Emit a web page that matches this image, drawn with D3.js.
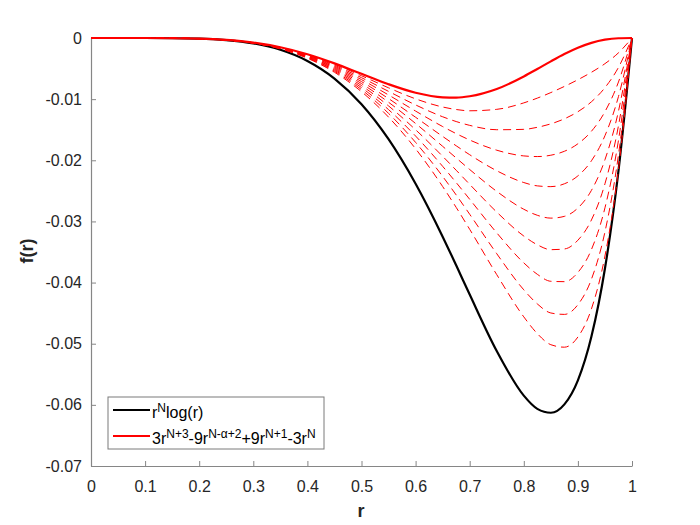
<!DOCTYPE html>
<html>
<head>
<meta charset="utf-8">
<script src="https://cdn.jsdelivr.net/npm/d3@7"></script>
<style>
  html, body { margin: 0; padding: 0; background: #fff; }
  svg { display: block; }
  text { font-family: "Liberation Sans", Arial, Helvetica, sans-serif; }
</style>
</head>
<body>
<svg id="chart" width="700" height="525"></svg>
<script>
// ---- data ----
const rGrid = [0, 0.1, 0.2, 0.25, 0.3, 0.35, 0.4, 0.45, 0.5, 0.55, 0.6, 0.65, 0.675, 0.7, 0.75, 0.8, 0.825, 0.85, 0.875, 0.9, 0.925, 0.95, 0.975, 1];

const blackCurve = [0, -0.0000023, -0.000103, -0.000338, -0.000878, -0.00193, -0.003753, -0.006631, -0.01083, -0.016549, -0.023833, -0.032489, -0.037176, -0.041963, -0.051201, -0.058496, -0.060656, -0.061294, -0.059928, -0.055993, -0.048835, -0.037705, -0.02175, 0];

const redCurve = [0, -0.0000022, -0.0000983, -0.000309, -0.00075, -0.0015145, -0.0026542, -0.0041446, -0.0058594, -0.0075671, -0.008958, -0.0097007, -0.0097407, -0.0095296, -0.0083427, -0.0062915, -0.0050695, -0.0038186, -0.0026297, -0.0015943, -0.0007928, -0.0002757, -0.0000403, 0];

const dashed1 = [0, -0.0000022, -0.0000988, -0.000311, -0.000759, -0.0015419, -0.0027238, -0.0043001, -0.0061727, -0.008146, -0.0099496, -0.0112863, -0.011697, -0.0119037, -0.0116666, -0.0106104, -0.0098312, -0.0089255, -0.00792, -0.0068225, -0.0056088, -0.0041974, -0.0024225, 0];
const dashed2 = [0, -0.0000022, -0.0000993, -0.000314, -0.000769, -0.0015697, -0.0027942, -0.0044571, -0.0064888, -0.0087293, -0.0109478, -0.0128808, -0.0136631, -0.0142887, -0.0150029, -0.0149415, -0.0146047, -0.0140429, -0.013219, -0.0120577, -0.0104295, -0.0081213, -0.0048056, 0];
const dashed3 = [0, -0.0000022, -0.0000998, -0.000316, -0.000778, -0.0015979, -0.0028654, -0.0046158, -0.0068077, -0.0093171, -0.0119525, -0.0144841, -0.0156392, -0.0166845, -0.0183513, -0.0192852, -0.0193901, -0.0191709, -0.0185275, -0.0173002, -0.0152551, -0.0120477, -0.0071894, 0];
const dashed4 = [0, -0.0000022, -0.0001003, -0.000319, -0.000788, -0.0016264, -0.0029375, -0.0047761, -0.0071295, -0.0099095, -0.0129638, -0.0160961, -0.0176252, -0.0190915, -0.0217122, -0.0236413, -0.0241871, -0.0243098, -0.0238447, -0.0225496, -0.0200855, -0.015977, -0.0095738, 0];
const dashed5 = [0, -0.0000022, -0.0001008, -0.000321, -0.000797, -0.0016554, -0.0030104, -0.0049381, -0.0074541, -0.0105064, -0.0139817, -0.0177172, -0.0196212, -0.0215092, -0.0250854, -0.0280099, -0.028996, -0.0294593, -0.0291712, -0.0278061, -0.0249207, -0.0199084, -0.0119589, 0];
const dashed6 = [0, -0.0000022, -0.0001013, -0.000324, -0.000807, -0.0016847, -0.0030842, -0.0051017, -0.0077816, -0.0111079, -0.0150063, -0.0193472, -0.0216272, -0.0239381, -0.0284711, -0.0323908, -0.0338165, -0.0346194, -0.034507, -0.0330696, -0.0297608, -0.0238429, -0.0143454, 0];
const dashed7 = [0, -0.0000022, -0.0001019, -0.000327, -0.000817, -0.0017144, -0.0031589, -0.005267, -0.0081121, -0.011714, -0.0160377, -0.0209862, -0.0236434, -0.0263782, -0.0318693, -0.0367843, -0.0386492, -0.0397904, -0.0398518, -0.0383403, -0.0346058, -0.0277794, -0.0167319, 0];
const dashed8 = [0, -0.0000022, -0.0001025, -0.00033, -0.000828, -0.0017445, -0.0032344, -0.005434, -0.0084454, -0.0123247, -0.0170758, -0.0226343, -0.0256698, -0.0288293, -0.03528, -0.0411903, -0.0434936, -0.0449721, -0.0452054, -0.043618, -0.0394551, -0.0317191, -0.0191198, 0];
const dashed9 = [0, -0.0000022, -0.0001035, -0.000333, -0.000838, -0.0017751, -0.0033109, -0.0056028, -0.0087818, -0.0129401, -0.0181206, -0.0242915, -0.0277064, -0.0312917, -0.0387033, -0.0456088, -0.0483503, -0.0501648, -0.0505685, -0.0489031, -0.0443094, -0.0356606, -0.0215085, 0];

const xTicks = [0, 0.1, 0.2, 0.3, 0.4, 0.5, 0.6, 0.7, 0.8, 0.9, 1];
const xTickLabels = ["0", "0.1", "0.2", "0.3", "0.4", "0.5", "0.6", "0.7", "0.8", "0.9", "1"];
const yTicks = [0, -0.01, -0.02, -0.03, -0.04, -0.05, -0.06, -0.07];
const yTickLabels = ["0", "-0.01", "-0.02", "-0.03", "-0.04", "-0.05", "-0.06", "-0.07"];

const xLabel = "r";
const yLabel = "f(r)";

// ---- drawing ----
const dashedSeries = [dashed1, dashed2, dashed3, dashed4, dashed5, dashed6, dashed7, dashed8, dashed9];
const svg = d3.select("#chart");
const x = d3.scaleLinear().domain([0, 1]).range([91, 632]);
const y = d3.scaleLinear().domain([-0.07, 0]).range([466, 38]);
const axisColor = "#868686";

const toPts = vals => rGrid.map((r, i) => [r, vals[i]]);
const line = d3.line()
  .x(d => x(d[0]))
  .y(d => y(d[1]))
  .curve(d3.curveMonotoneX);

// axes
const gx = svg.append("g").attr("transform", `translate(0,${y(-0.07)})`)
  .call(d3.axisBottom(x).tickValues(xTicks)
    .tickFormat((d, i) => xTickLabels[i])
    .tickSizeInner(-5).tickSizeOuter(0).tickPadding(15));
const gy = svg.append("g").attr("transform", `translate(${x(0)},0)`)
  .call(d3.axisLeft(y).tickValues(yTicks)
    .tickFormat((d, i) => yTickLabels[i])
    .tickSizeInner(-5).tickSizeOuter(0).tickPadding(9));
[gx, gy].forEach(g => {
  g.select(".domain").attr("stroke", axisColor).attr("stroke-width", 1.2);
  g.selectAll(".tick line").attr("stroke", axisColor).attr("stroke-width", 1);
  g.selectAll(".tick text").attr("fill", "#262626")
    .style("font-size", "16px")
    .style("font-family", '"Liberation Sans", Arial, Helvetica, sans-serif');
});

// curves
svg.append("path").datum(toPts(blackCurve))
  .attr("d", line).attr("fill", "none").attr("stroke", "#000").attr("stroke-width", 2.2);

svg.append("g").selectAll("path").data(dashedSeries).join("path")
  .attr("d", d => line(toPts(d)))
  .attr("fill", "none").attr("stroke", "#ff0000").attr("stroke-width", 1)
  .attr("stroke-dasharray", "8,5");

svg.append("path").datum(toPts(redCurve))
  .attr("d", line).attr("fill", "none").attr("stroke", "#ff0000").attr("stroke-width", 2.2);

// axis labels
svg.append("text").attr("x", 361).attr("y", 517).attr("text-anchor", "middle")
  .style("font-size", "18px").style("font-weight", "bold").attr("fill", "#262626").text(xLabel);
svg.append("text").attr("transform", "translate(33,251) rotate(-90)").attr("text-anchor", "middle")
  .style("font-size", "18px").style("font-weight", "bold").attr("fill", "#262626").text(yLabel);

// legend
const leg = svg.append("g");
leg.append("rect").attr("x", 108).attr("y", 397).attr("width", 216).attr("height", 52)
  .attr("fill", "#fff").attr("stroke", "#7a7a7a").attr("stroke-width", 1);
leg.append("line").attr("x1", 113).attr("x2", 150).attr("y1", 410).attr("y2", 410)
  .attr("stroke", "#000").attr("stroke-width", 2.2);
leg.append("line").attr("x1", 113).attr("x2", 150).attr("y1", 436).attr("y2", 436)
  .attr("stroke", "#ff0000").attr("stroke-width", 2.2);

function richText(g, xPos, yPos, parts, targetWidth) {
  const build = (fs, ss, shift) => {
    const t = g.append("text").attr("x", xPos).attr("y", yPos)
      .style("font-size", fs + "px").attr("fill", "#000");
    let state = 0;
    parts.forEach(p => {
      const sup = p[1];
      const ts = t.append("tspan").text(p[0]);
      if (sup) ts.style("font-size", ss + "px");
      if (sup && state === 0) { ts.attr("dy", -shift); state = 1; }
      else if (!sup && state === 1) { ts.attr("dy", shift); state = 0; }
    });
    return t;
  };
  let t = build(16, 12, 6);
  const w = t.node().getComputedTextLength();
  if (w > 0 && Math.abs(w - targetWidth) > 3) {
    const k = Math.max(0.85, Math.min(1.1, targetWidth / w));
    t.remove();
    t = build(16 * k, 12 * k, 6 * k);
  }
}
richText(leg, 152, 418, [["r", 0], ["N", 1], ["log(r)", 0]], 51);
richText(leg, 152, 444, [["3r", 0], ["N+3", 1], ["-9r", 0], ["N-\u03B1+2", 1], ["+9r", 0], ["N+1", 1], ["-3r", 0], ["N", 1]], 166);
</script>
</body>
</html>
